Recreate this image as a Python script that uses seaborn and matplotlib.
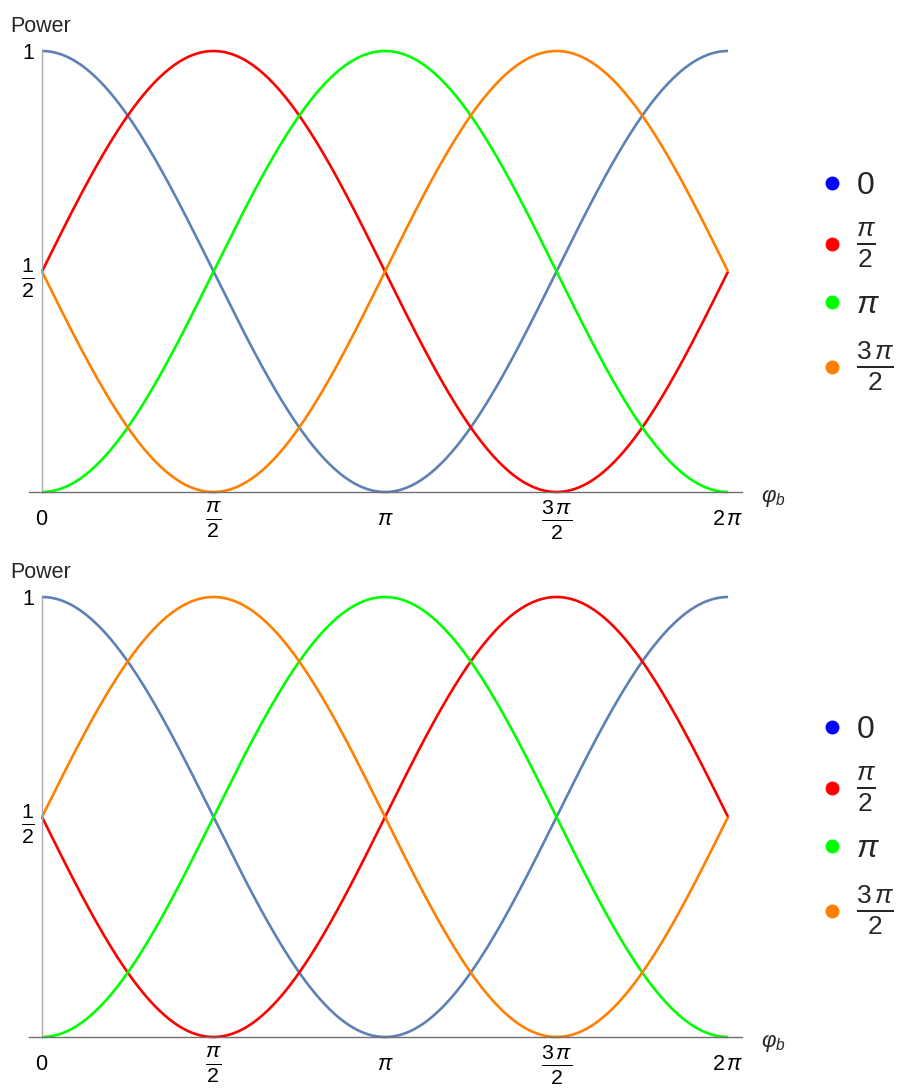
import numpy as np
import pandas as pd
import matplotlib
matplotlib.use("Agg")
import matplotlib.pyplot as plt
from matplotlib.lines import Line2D
import seaborn as sns

sns.set_theme(style="white")
plt.rcParams["font.family"] = ["Liberation Sans", "DejaVu Sans"]
plt.rcParams["mathtext.fontset"] = "custom"
plt.rcParams["mathtext.rm"] = "Liberation Sans"
plt.rcParams["mathtext.it"] = "Liberation Sans:italic"
plt.rcParams["mathtext.bf"] = "Liberation Sans:bold"

# Relative phase of each series, in units of pi
phase_names = ["0", "pi/2", "pi", "3pi/2"]
phase_units = [0.0, 0.5, 1.0, 1.5]
legend_labels = [r"$0$", r"$\frac{\pi}{2}$", r"$\pi$", r"$\frac{3\,\pi}{2}$"]
line_colors = ["#5E81B5", "#FF0000", "#00FF00", "#FF8000"]
dot_colors = ["#0000FF", "#FF0000", "#00FF00", "#FF8000"]
# Sign with which the series phase enters each panel (top, bottom)
panel_signs = [+1, -1]

xtick_units = [0, 0.5, 1, 1.5, 2]
xtick_labels = [r"$0$", r"$\frac{\pi}{2}$", r"$\pi$", r"$\frac{3\,\pi}{2}$", r"$2\,\pi$"]
ytick_values = [0.5, 1.0]
ytick_labels = [r"$\frac{1}{2}$", r"$1$"]

TEXT_SIZE = 15.5
FRAC_SIZE = 22
LEGEND_SIZE = 23
LEGEND_FRAC_SIZE = 27

phi = np.linspace(0, 2 * np.pi, 400)


def power_frame(sign):
    rows = []
    for name, unit in zip(phase_names, phase_units):
        p = 0.5 * (1 + np.cos(phi - sign * unit * np.pi))
        rows.append(pd.DataFrame({"phi": phi, "power": p, "phase": name}))
    return pd.concat(rows, ignore_index=True)


def size_labels(labels, base, frac):
    for lab in labels:
        lab.set_fontsize(frac if r"\frac" in lab.get_text() else base)


fig = plt.figure(figsize=(9.07, 10.9), dpi=100)
W, H = 907, 1090
axes_rects = [
    [29 / W, 1 - 492 / H, (742 - 29) / W, (492 - 51) / H],
    [29 / W, 1 - 1037 / H, (742 - 29) / W, (1037 - 597) / H],
]
legend_centers = [1 - 282 / H, 1 - 826 / H]

for rect, sign, leg_y in zip(axes_rects, panel_signs, legend_centers):
    ax = fig.add_axes(rect)
    df = power_frame(sign)
    sns.lineplot(data=df, x="phi", y="power", hue="phase", hue_order=phase_names,
                 palette=line_colors, linewidth=1.9, estimator=None,
                 legend=False, ax=ax)
    for ln in ax.lines:
        ln.set_clip_on(False)
        ln.set_solid_capstyle("butt")

    ax.set_xlim(-0.119, 2 * np.pi + 0.128)
    ax.set_ylim(0, 1)
    ax.set_xlabel("")
    ax.set_ylabel("")
    for s in ("top", "right"):
        ax.spines[s].set_visible(False)
    ax.spines["left"].set_position(("data", 0))
    ax.spines["left"].set_bounds(0, 1)
    ax.spines["left"].set_color("#aaaaaa")
    ax.spines["left"].set_linewidth(1.0)
    ax.spines["bottom"].set_color("#707070")
    ax.spines["bottom"].set_linewidth(1.0)

    ax.set_xticks(np.pi * np.array(xtick_units))
    ax.set_xticklabels(xtick_labels)
    ax.set_yticks(ytick_values)
    ax.set_yticklabels(ytick_labels)
    ax.tick_params(axis="x", direction="in", length=4.5, width=0.8,
                   color="#999999", pad=20, labelcolor="black")
    ax.tick_params(axis="y", direction="in", length=5, width=0.8,
                   color="#999999", pad=5, labelcolor="black")
    plt.setp(ax.get_xticklabels(), va="center")
    size_labels(ax.get_xticklabels(), TEXT_SIZE, FRAC_SIZE)
    size_labels(ax.get_yticklabels(), TEXT_SIZE, FRAC_SIZE)

    ax.annotate("Power", xy=(0, 1), xycoords="data", xytext=(-32, 25),
                textcoords="offset pixels", ha="left", va="center",
                fontsize=TEXT_SIZE)
    ax.annotate(r"$\varphi_b$", xy=(2 * np.pi, 0), xycoords="data",
                xytext=(33, -6), textcoords="offset pixels", ha="left",
                va="center", fontsize=16)

    handles = [Line2D([], [], marker="o", linestyle="", markersize=9,
                      markerfacecolor=c, markeredgecolor=c) for c in dot_colors]
    leg = ax.legend(handles, legend_labels, loc="center left",
                    bbox_to_anchor=(816 / W, leg_y), bbox_transform=fig.transFigure,
                    frameon=False, fontsize=LEGEND_SIZE, handlelength=1.0,
                    handletextpad=0.25, borderpad=0, borderaxespad=0,
                    labelspacing=0.62)
    size_labels(leg.get_texts(), LEGEND_SIZE, LEGEND_FRAC_SIZE)

fig.savefig("out.png", dpi=100, facecolor="white")
